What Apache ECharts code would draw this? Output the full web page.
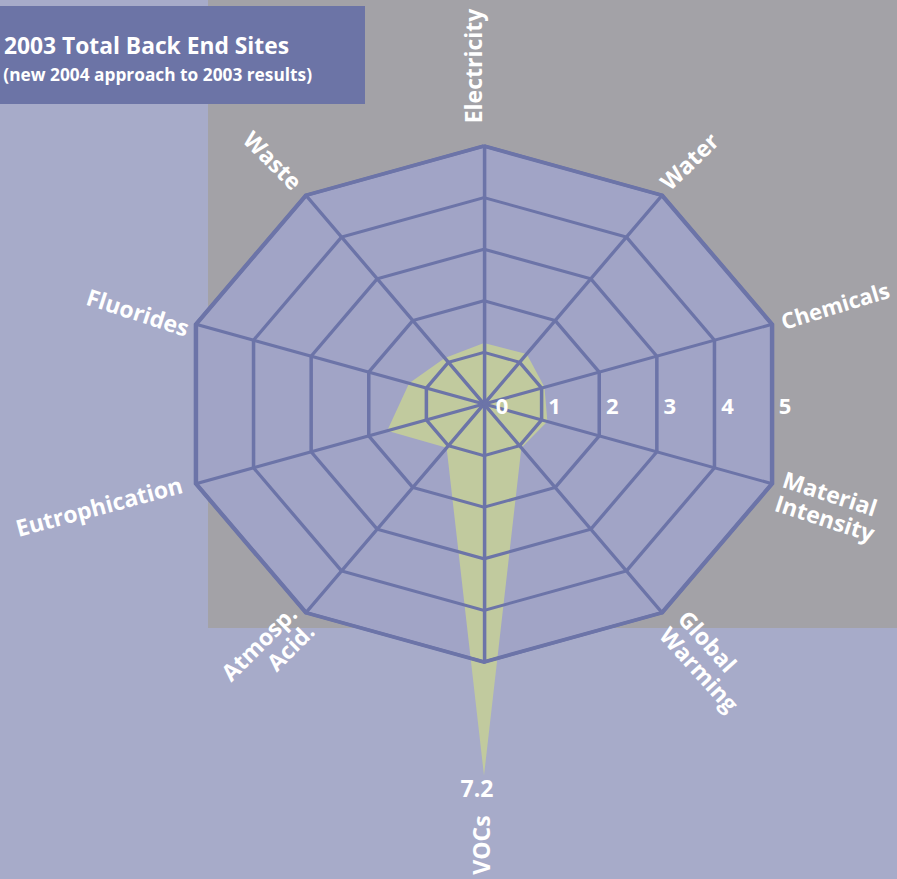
<!DOCTYPE html>
<html><head><meta charset="utf-8">
<script src="https://cdn.jsdelivr.net/npm/echarts@6/dist/echarts.min.js"></script>
<style>
html,body{margin:0;padding:0;width:897px;height:879px;overflow:hidden;background:#a7abc9}
.layer{position:absolute;left:0;top:0;width:897px;height:879px}
#radar{transform-origin:484px 404px;transform:scaleX(1.174)}
</style></head><body>
<div id="bg" class="layer"></div>
<div id="radar" class="layer"></div>
<div id="labels" class="layer"></div>
<script>
// ---- data (clockwise from top) ----
const categories = ['Electricity','Water','Chemicals','Material Intensity','Global Warming','VOCs','Atmosp. Acid.','Eutrophication','Fluorides','Waste'];
const values = [1.18, 1.2, 1.05, 1.1, 1.05, 7.2, 1.05, 1.68, 1.3, 1.1];
const axisMax = 5;
const tickLabels = ['0','1','2','3','4','5'];
const vocLabel = '7.2';
const titleText = '2003 Total Back End Sites';
const subtitleText = '(new 2004 approach to 2003 results)';

// ---- styling ----
const FONT = '"Open Sans", "Noto Sans", sans-serif';
const LINE = '#6c74a8';
const GREEN = '#c1ca9e';
const FILL = '#a1a4c6';
const CX = 484, CY = 404, R = 258, SX = 1.174;

// ECharts radar places indicators counter-clockwise; reorder clockwise data
const order = categories.map((_, i) => (categories.length - i) % categories.length);
const indicator = order.map(i => ({ name: categories[i], min: 0, max: axisMax }));
const radarValues = order.map(i => values[i]);

// ---- background layer ----
const bg = echarts.init(document.getElementById('bg'), null, { renderer: 'svg' });
bg.setOption({
  backgroundColor: 'transparent',
  graphic: [
    { type: 'rect', shape: { x: 208, y: 0, width: 689, height: 628 }, style: { fill: '#a3a2a7' } },
    { type: 'rect', shape: { x: 0, y: 6, width: 365, height: 98 }, style: { fill: '#6c74a6' } },
    { type: 'text', x: 289, y: 45, style: { text: titleText, fill: '#fff', fontSize: 22.8, fontWeight: 'bold', fontFamily: FONT, align: 'right', verticalAlign: 'middle' } },
    { type: 'text', x: 312, y: 74, style: { text: subtitleText, fill: '#fff', fontSize: 17.3, fontWeight: 'bold', fontFamily: FONT, align: 'right', verticalAlign: 'middle' } }
  ]
});

// ---- radar layer (stretched horizontally via CSS) ----
const baseRadar = {
  center: [CX, CY], radius: R, startAngle: 90, splitNumber: 5, shape: 'polygon',
  indicator: indicator,
  axisName: { show: false }, axisTick: { show: false }, axisLabel: { show: false }
};
const radar = echarts.init(document.getElementById('radar'), null, { renderer: 'svg' });
radar.setOption({
  backgroundColor: 'transparent',
  animation: false,
  radar: [
    Object.assign({}, baseRadar, { z: 1,
      splitLine: { show: false }, axisLine: { show: false },
      splitArea: { show: true, areaStyle: { color: [FILL] } } }),
    Object.assign({}, baseRadar, { z: 5,
      splitArea: { show: false },
      splitLine: { show: true, lineStyle: { color: LINE, width: 3 } },
      axisLine: { show: true, lineStyle: { color: LINE, width: 3 } } }),
    Object.assign({}, baseRadar, { z: 6, splitNumber: 1,
      splitArea: { show: false }, axisLine: { show: false },
      splitLine: { show: true, lineStyle: { color: LINE, width: 3.8 } } })
  ],
  series: [{
    type: 'radar', radarIndex: 0, z: 3, silent: true, symbol: 'none',
    lineStyle: { width: 0 },
    areaStyle: { color: GREEN, opacity: 1 },
    data: [{ value: radarValues, name: titleText }]
  }]
});

// ---- label layer ----
const deg = d => d * Math.PI / 180;
const nameStyle = { fill: '#fff', fontSize: 23, fontWeight: 'bold', fontFamily: FONT, lineHeight: 25 };
const namePlaces = {
  'Electricity':        { x: 473, y: 66,  r: 90,  align: 'center', text: 'Electricity' },
  'Water':              { x: 689, y: 161, r: 44,  align: 'center', text: 'Water' },
  'Chemicals':          { x: 835, y: 305, r: 17,  align: 'center', text: 'Chemicals', size: 22 },
  'Material Intensity': { x: 780, y: 490, r: -18, align: 'left',   text: 'Material\nIntensity' },
  'Global Warming':     { x: 674, y: 622, r: -48, align: 'left',   text: 'Global\nWarming' },
  'VOCs':               { x: 481, y: 845, r: 90,  align: 'center', text: 'VOCs' },
  'Atmosp. Acid.':      { x: 301, y: 618, r: 45,  align: 'right',  text: 'Atmosp.\nAcid.' },
  'Eutrophication':     { x: 99,  y: 506, r: 15,  align: 'center', text: 'Eutrophication' },
  'Fluorides':          { x: 138, y: 312, r: -18, align: 'center', text: 'Fluorides' },
  'Waste':              { x: 273, y: 160, r: -45, align: 'center', text: 'Waste' }
};
const graphics = [];
categories.forEach(c => {
  const p = namePlaces[c];
  graphics.push({ type: 'text', x: p.x, y: p.y, rotation: deg(p.r),
    style: Object.assign({}, nameStyle, { text: p.text, align: p.align, verticalAlign: 'middle' },
      p.size ? { fontSize: p.size } : {}) });
});
// tick labels along the horizontal, just right of each ring edge
const ringStep = R / axisMax * Math.sin(deg(72)) * SX;
tickLabels.forEach((t, k) => {
  graphics.push({ type: 'text', x: CX + k * ringStep + (k === 0 ? 18 : 13), y: 405,
    style: { text: t, fill: '#fff', fontSize: 22, fontWeight: 'bold', fontFamily: FONT, align: 'center', verticalAlign: 'middle' } });
});
graphics.push({ type: 'text', x: 477, y: 788,
  style: { text: vocLabel, fill: '#fff', fontSize: 23, fontWeight: 'bold', fontFamily: FONT, align: 'center', verticalAlign: 'middle' } });

const labels = echarts.init(document.getElementById('labels'), null, { renderer: 'svg' });
labels.setOption({ backgroundColor: 'transparent', graphic: graphics });
</script>
</body></html>
